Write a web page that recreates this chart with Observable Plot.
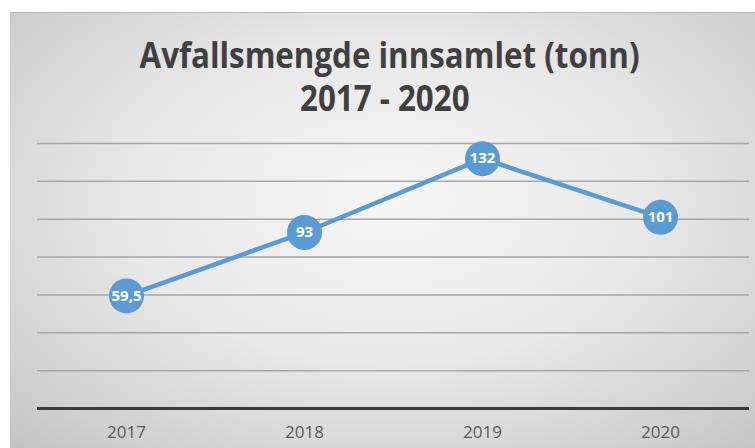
<!DOCTYPE html>
<html>
<head>
<meta charset="utf-8">
<script src="https://cdn.jsdelivr.net/npm/d3@7"></script>
<script src="https://cdn.jsdelivr.net/npm/@observablehq/plot@0.6"></script>
<style>
  html, body { margin: 0; padding: 0; background: #ffffff; width: 755px; height: 448px; overflow: hidden; }
  #panel {
    position: absolute; left: 10px; top: 12px; width: 760px; height: 450px;
    border-top: 1px solid #b4b4b4;
    background: radial-gradient(ellipse 75% 80% at 50% 42%, #f6f6f6 0%, #e8e8e8 45%, #d0d0d0 80%, #c0c0c0 100%);
  }
  .title {
    position: absolute; width: 755px; text-align: center;
    font-family: "Open Sans", sans-serif; font-weight: 700; color: #404040;
    font-size: 35px; line-height: 36px; white-space: nowrap;
  }
  .title span { display: inline-block; transform-origin: center; }
  #chart { position: absolute; left: 0; top: 130px; }
  #chart text.lbl { letter-spacing: -0.4px; }
</style>
</head>
<body>
<div id="panel"></div>
<div class="title" id="t1" style="top:37px; left:12px"><span>Avfallsmengde innsamlet (tonn)</span></div>
<div class="title" id="t2" style="top:80px; left:7px"><span>2017 - 2020</span></div>
<div id="chart"></div>
<script>
const years = ["2017", "2018", "2019", "2020"];
const values = [59.5, 93, 132, 101];
const gridTicks = [20, 40, 60, 80, 100, 120, 140];

const data = years.map((y, i) => ({year: y, value: values[i]}));
const fmt = v => String(v).replace(".", ",");

// fit title width to reference proportions
const s1 = document.querySelector("#t1 span");
const s2 = document.querySelector("#t2 span");
const w1 = s1.getBoundingClientRect().width;
const k = 500 / w1;
s1.style.transform = `scaleX(${k})`;
s2.style.transform = `scaleX(${k})`;

const blue = "#5b9bd5";
const plot = Plot.plot({
  width: 755,
  height: 318,
  marginLeft: 37,
  marginRight: 6,
  marginTop: 13,
  marginBottom: 40,
  style: {background: "transparent", fontFamily: "'Open Sans', sans-serif"},
  x: {type: "point", domain: years, padding: 0.5, label: null},
  y: {domain: [0, 140], axis: null},
  marks: [
    Plot.ruleY(gridTicks, {stroke: "#a6a6a6", strokeWidth: 1.5}),
    Plot.ruleY([0], {stroke: "#3a3a3a", strokeWidth: 3}),
    Plot.axisX({tickSize: 0, tickPadding: 17, fontSize: 17, fill: "#595959", label: null}),
    Plot.line(data, {x: "year", y: "value", stroke: blue, strokeWidth: 4.5}),
    Plot.dot(data, {x: "year", y: "value", r: 17.5, fill: blue, stroke: "none"}),
    Plot.text(data, {x: "year", y: "value", text: d => fmt(d.value), fill: "white", fontWeight: "bold", fontSize: 15, className: "lbl"})
  ]
});
document.getElementById("chart").appendChild(plot);
</script>
</body>
</html>
